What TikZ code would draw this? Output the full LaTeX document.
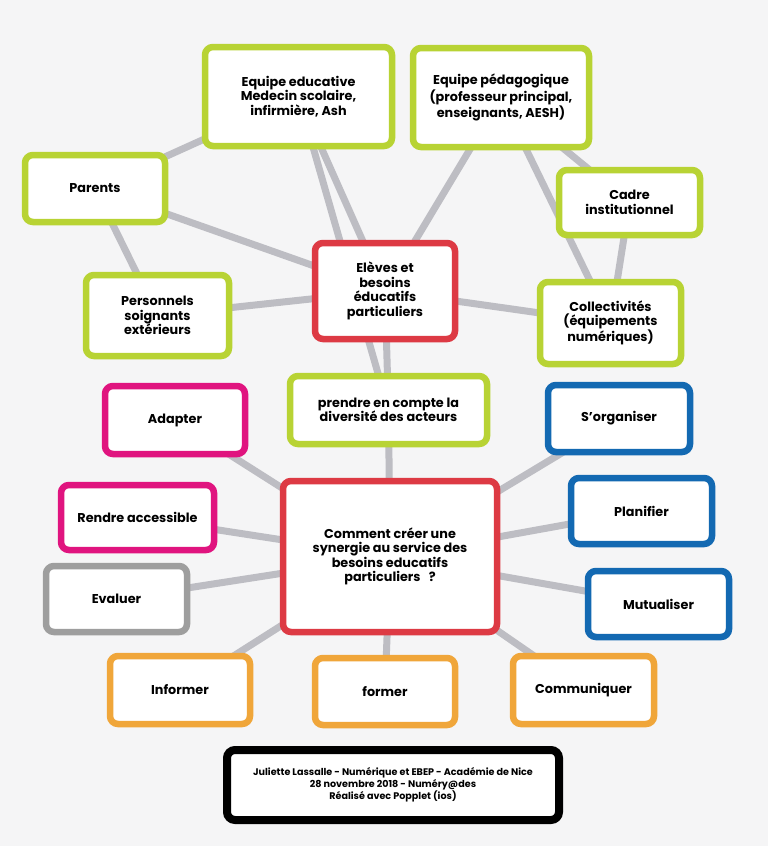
\documentclass[tikz,border=0pt]{standalone}
\usepackage{fontspec}
\setmainfont{Poppins}
\pgfdeclarelayer{bg}
\pgfdeclarelayer{edges}
\pgfsetlayers{bg,edges,main}
\definecolor{bgc}{HTML}{F5F5F6}
\definecolor{edgec}{HTML}{BDBDC3}
\definecolor{pgreen}{HTML}{B8D334}
\definecolor{pred}{HTML}{DD3A44}
\definecolor{pmag}{HTML}{E0147F}
\definecolor{pblue}{HTML}{1369B2}
\definecolor{porange}{HTML}{F0A63A}
\definecolor{pgray}{HTML}{9E9E9E}
\tikzset{
  pbox/.style={draw=#1, line width=6.5pt, fill=white, rounded corners=8pt,
    inner sep=0pt, align=center, font=\fontsize{12.8}{14.5}\selectfont\bfseries},
  link/.style={draw=edgec, line width=7pt},
}
\begin{document}
\begin{tikzpicture}[x=1pt,y=-1pt]
\begin{pgfonlayer}{bg}
\fill[bgc] (0,0) rectangle (768,846);
\end{pgfonlayer}
\useasboundingbox (0,0) rectangle (768,846);

\node[pbox=pgreen, minimum width=187pt, minimum height=99pt] (eqed) at (298.5,96.5) {Equipe educative\\Medecin scolaire,\\infirmière, Ash};
\node[pbox=pgreen, minimum width=176pt, minimum height=99pt] (eqped) at (501,97.5) {Equipe pédagogique\\(professeur principal,\\enseignants, AESH)};
\node[pbox=pgreen, minimum width=140pt, minimum height=67pt] (parents) at (95,188.5) {Parents};
\node[pbox=pgreen, minimum width=143pt, minimum height=81pt] (perso) at (157.5,315.5) {Personnels\\soignants\\extérieurs};
\node[pbox=pred, minimum width=140pt, minimum height=96pt] (eleves) at (385,291) {Elèves et\\besoins\\éducatifs\\particuliers};
\node[pbox=pgreen, minimum width=141pt, minimum height=65pt] (cadre) at (629.5,202.5) {Cadre\\institutionnel};
\node[pbox=pgreen, minimum width=141pt, minimum height=82pt] (coll) at (610.5,323) {Collectivités\\(équipements\\numériques)};
\node[pbox=pgreen, minimum width=197pt, minimum height=68pt] (prendre) at (388.5,410) {prendre en compte la\\diversité des acteurs};
\node[pbox=pmag, minimum width=140pt, minimum height=68pt] (adapter) at (175,420) {Adapter};
\node[pbox=pmag, minimum width=153pt, minimum height=65pt] (rendre) at (137.5,517.5) {Rendre accessible};
\node[pbox=pgray, minimum width=141pt, minimum height=66pt] (evaluer) at (116.5,599) {Evaluer};
\node[pbox=porange, minimum width=140pt, minimum height=68pt] (informer) at (180,690) {Informer};
\node[pbox=pred, minimum width=214pt, minimum height=151pt] (comment) at (390,556.5) {Comment créer une\\synergie au service des\\besoins educatifs\\particuliers\ \ \ ?};
\node[pbox=porange, minimum width=140pt, minimum height=67pt] (former) at (385,691.5) {former};
\node[pbox=pblue, minimum width=142pt, minimum height=67pt] (sorg) at (619,418.5) {S’organiser};
\node[pbox=pblue, minimum width=141pt, minimum height=66pt] (planif) at (641.5,511) {Planifier};
\node[pbox=pblue, minimum width=141pt, minimum height=66pt] (mutu) at (658.5,604) {Mutualiser};
\node[pbox=porange, minimum width=141pt, minimum height=68pt] (comm) at (583.5,690) {Communiquer};
\node[pbox=black, line width=8pt, minimum width=332pt, minimum height=70pt,
  font=\fontsize{9.6}{10}\selectfont\bfseries] (footer) at (393,785)
  {Juliette Lassalle - Numérique et EBEP - Académie de Nice\\28 novembre 2018 - Numéry@des\\Réalisé avec Popplet (ios)};

\begin{pgfonlayer}{edges}
\draw[link] (eqed.center) -- (parents.center);
\draw[link] (eqed.center) -- (eleves.center);
\draw[link] (eqed.center) -- (prendre.center);
\draw[link] (parents.center) -- (eleves.center);
\draw[link] (parents.center) -- (perso.center);
\draw[link] (perso.center) -- (eleves.center);
\draw[link] (eqped.center) -- (eleves.center);
\draw[link] (eqped.center) -- (cadre.center);
\draw[link] (eqped.center) -- (coll.center);
\draw[link] (cadre.center) -- (coll.center);
\draw[link] (eleves.center) -- (coll.center);
\draw[link] (eleves.center) -- (prendre.center);
\draw[link] (prendre.center) -- (comment.center);
\draw[link] (comment.center) -- (adapter.center);
\draw[link] (comment.center) -- (rendre.center);
\draw[link] (comment.center) -- (evaluer.center);
\draw[link] (comment.center) -- (informer.center);
\draw[link] (comment.center) -- (former.center);
\draw[link] (comment.center) -- (comm.center);
\draw[link] (comment.center) -- (sorg.center);
\draw[link] (comment.center) -- (planif.center);
\draw[link] (comment.center) -- (mutu.center);
\end{pgfonlayer}
\end{tikzpicture}
\end{document}
